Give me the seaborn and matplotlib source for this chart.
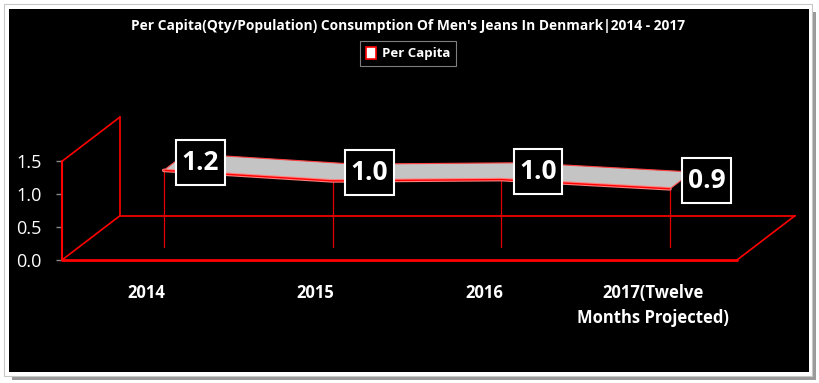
import matplotlib
matplotlib.use("Agg")
import matplotlib.pyplot as plt
import seaborn as sns
import numpy as np
import pandas as pd
from matplotlib.patches import Rectangle, Patch, Polygon
from matplotlib.path import Path

# ---- data ----
categories = ["2014", "2015", "2016", "2017(Twelve\nMonths Projected)"]
per_capita = [1.16, 1.00, 1.02, 0.88]
y_ticks = [0.0, 0.5, 1.0, 1.5]
title = "Per Capita(Qty/Population) Consumption Of Men's Jeans In Denmark|2014 - 2017"
series_name = "Per Capita"

sns.set_theme(style="dark")
plt.rcParams['font.family'] = ['Open Sans', 'DejaVu Sans']

W, H = 820, 383
fig = plt.figure(figsize=(W / 100, H / 100), dpi=100)
fig.patch.set_facecolor("white")

def px(x0, y0, x1, y1):
    return [x0 / W, 1 - y1 / H, (x1 - x0) / W, (y1 - y0) / H]

# shadow + black panel
fig.add_artist(Rectangle((12 / W, 1 - 380 / H), 804 / W, 368 / H, transform=fig.transFigure,
                         facecolor="#9a9a9a", edgecolor="none", zorder=0))
fig.add_artist(Rectangle((4 / W, 1 - 376 / H), 808 / W, 372 / H, transform=fig.transFigure,
                         facecolor="white", edgecolor="#c8c8c8", lw=0.8, zorder=0))
fig.add_artist(Rectangle((9 / W, 1 - 372 / H), 800 / W, 363 / H, transform=fig.transFigure,
                         facecolor="black", edgecolor="none", zorder=0))

# 3D depth in data units
n = len(categories)
depth_dx = 58 / 168.75          # categories
depth_dy = 44 / 65.33           # value units
ymax_front = 1.5
d0, d1 = 0.30, 0.68             # ribbon front/back depth fraction

ax = fig.add_axes(px(62, 117, 795, 260))
ax.set_facecolor("none")
ax.set_xlim(-0.5, n - 0.5 + depth_dx)
ax.set_ylim(0, ymax_front + depth_dy)
for s in ax.spines.values():
    s.set_visible(False)
ax.grid(False)

red = "#ff0000"
x0, x1 = -0.5, n - 0.5
bx, by = depth_dx, depth_dy
# box frame
ax.plot([x0, x1], [0, 0], color=red, lw=2.0, clip_on=False, zorder=3)
ax.plot([x1, x1 + bx], [0, by], color=red, lw=1.2, clip_on=False, zorder=2)
ax.plot([x0 + bx, x1 + bx], [by, by], color=red, lw=1.2, clip_on=False, zorder=2)
ax.plot([x0, x0 + bx], [0, by], color=red, lw=1.2, clip_on=False, zorder=2)
ax.plot([x0 + bx, x0 + bx], [by, ymax_front + by], color=red, lw=1.2, clip_on=False, zorder=2)
ax.plot([x0, x0], [0, ymax_front], color=red, lw=1.5, clip_on=False, zorder=3)
ax.plot([x0, x0 + bx], [ymax_front, ymax_front + by], color=red, lw=1.2, clip_on=False, zorder=2)

# ribbon
xs = np.arange(n)
vals = np.array(per_capita)
fx, fy = xs + d0 * bx, vals + d0 * by
bkx, bky = xs + d1 * bx, vals + d1 * by
poly = np.vstack([np.column_stack([fx, fy]), np.column_stack([bkx, bky])[::-1]])
ax.add_patch(Polygon(poly, closed=True, facecolor="#c4c4c4", edgecolor="none", zorder=4))
df_front = pd.DataFrame({"x": fx, "y": fy})
df_back = pd.DataFrame({"x": bkx, "y": bky})
sns.lineplot(data=df_front, x="x", y="y", ax=ax, color="#ff8080", lw=2.6, zorder=5, sort=False)
sns.lineplot(data=df_front, x="x", y="y", ax=ax, color=red, lw=1.0, zorder=5, sort=False)
sns.lineplot(data=df_back, x="x", y="y", ax=ax, color="#ff4040", lw=0.8, zorder=5, sort=False)
ax.plot([fx[0], bkx[0]], [fy[0], bky[0]], color="#ff5050", lw=0.8, zorder=5)
ax.plot([fx[-1], bkx[-1]], [fy[-1], bky[-1]], color="#ff5050", lw=0.8, zorder=5)
# drop lines
for xi, yi in zip(fx, fy):
    ax.plot([xi, xi], [d0 * by, yi], color="#e00000", lw=0.9, zorder=3)


def label_box(x0, y0, width, height, mutation_size, padx=0.21, pady=0.34):
    px_, py_ = padx * mutation_size, pady * mutation_size
    xa, ya, xb, yb = x0 - px_, y0 - py_, x0 + width + px_, y0 + height + py_
    return Path([(xa, ya), (xb, ya), (xb, yb), (xa, yb), (xa, ya)], closed=True)


# data labels
for xi, yi, v in zip(fx, fy, vals):
    ax.annotate(f"{v:.1f}", (xi, yi), xytext=(26.5, 6), textcoords="offset points",
                ha="center", va="center", color="white", fontsize=19, fontweight="bold",
                bbox=dict(boxstyle=label_box, facecolor="black", edgecolor="white", lw=1.5),
                zorder=10, annotation_clip=False)

# axes ticks
ax.set_yticks(y_ticks)
ax.set_yticklabels([f"{t:.1f}" for t in y_ticks])
ax.tick_params(axis="y", colors="#888888", length=4.5, width=1, pad=10, labelsize=13,
               labelcolor="white", left=True)
ax.set_xticks(xs)
ax.set_xticklabels(categories, fontweight="bold", fontsize=12, color="white",
                   linespacing=1.55)
ax.tick_params(axis="x", length=0, pad=17)
ax.set_xlabel("")
ax.set_ylabel("")

# title
fig.text(408 / W, 1 - 26 / H, title, ha="center", va="center", color="white",
         fontsize=9.9, fontweight="bold")

# legend
handle = Patch(facecolor="white", edgecolor=red, lw=1.2, label=series_name)
leg = fig.legend(handles=[handle], loc="center", bbox_to_anchor=(408 / W, 1 - 53.5 / H),
                 frameon=True, fancybox=False, handlelength=0.8, handleheight=1.0,
                 handletextpad=0.4, borderpad=0.45, prop=dict(weight="bold", size=9.5))
leg.get_frame().set_facecolor("black")
leg.get_frame().set_edgecolor("#a0a0a0")
leg.get_frame().set_linewidth(0.8)
for t in leg.get_texts():
    t.set_color("white")

fig.savefig("out.png", dpi=100, facecolor=fig.get_facecolor())
